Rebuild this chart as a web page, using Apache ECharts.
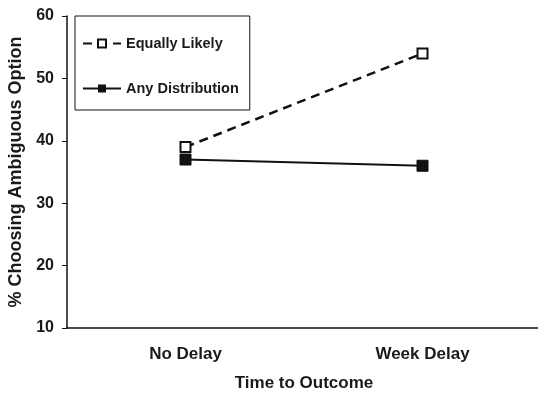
<!DOCTYPE html>
<html>
<head>
<meta charset="utf-8">
<script src="https://cdn.jsdelivr.net/npm/echarts@6/dist/echarts.min.js"></script>
<style>
  html, body { margin: 0; padding: 0; background: #fff; }
  #chart { width: 538px; height: 394px; }
</style>
</head>
<body>
<div id="chart"></div>
<script>
// 数据
const categories = ['No Delay', 'Week Delay'];
const equallyLikely = [39, 54];
const anyDistribution = [37, 36];
const yTicks = [10, 20, 30, 40, 50, 60];

const chart = echarts.init(document.getElementById('chart'));
const txt = '#1a1a1a';
const font = 'Liberation Sans, Arial, sans-serif';

chart.setOption({
    animation: false,
    grid: { left: 67, right: -3, top: 16, bottom: 66, outerBoundsMode: 'none', containLabel: false },
    legend: {
        orient: 'vertical',
        left: 75, top: 16,
        padding: [20, 11, 14, 7],
        itemGap: 30,
        itemWidth: 38,
        itemHeight: 10,
        borderColor: '#111',
        borderWidth: 1,
        textStyle: { fontFamily: font, fontSize: 14.5, fontWeight: 'bold', color: txt },
        data: ['Equally Likely', 'Any Distribution']
    },
    xAxis: {
        type: 'category',
        data: categories,
        boundaryGap: true,
        axisLine: { lineStyle: { color: '#111', width: 1.5 } },
        axisTick: { length: 5, lineStyle: { color: '#111' } },
        axisLabel: { fontFamily: font, fontSize: 17, fontWeight: 'bold', color: txt, margin: 18 },
        name: 'Time to Outcome',
        nameLocation: 'middle',
        nameGap: 47,
        nameTextStyle: { fontFamily: font, fontSize: 17, fontWeight: 'bold', color: txt }
    },
    yAxis: {
        type: 'value',
        min: 10, max: 60, interval: 10,
        splitLine: { show: false },
        axisLine: { show: true, lineStyle: { color: '#111', width: 1.5 } },
        axisTick: { show: true, length: 5, lineStyle: { color: '#111' } },
        axisLabel: {
            fontFamily: font, fontSize: 16, fontWeight: 'bold', color: txt, margin: 13,
            formatter: v => yTicks.indexOf(v) >= 0 ? String(v) : ''
        },
        name: '% Choosing Ambiguous Option',
        nameLocation: 'middle',
        nameGap: 36,
        nameTextStyle: { fontFamily: font, fontSize: 18, fontWeight: 'bold', color: txt }
    },
    series: [
        {
            name: 'Equally Likely',
            type: 'line',
            data: equallyLikely,
            symbol: 'rect',
            symbolSize: 10,
            itemStyle: { color: '#fff', borderColor: '#111', borderWidth: 2 },
            lineStyle: { color: '#111', width: 2.5, type: [9, 6] }
        },
        {
            name: 'Any Distribution',
            type: 'line',
            data: anyDistribution,
            symbol: 'rect',
            symbolSize: 11,
            itemStyle: { color: '#111', borderColor: '#111' },
            lineStyle: { color: '#111', width: 2 }
        }
    ]
});
</script>
</body>
</html>
